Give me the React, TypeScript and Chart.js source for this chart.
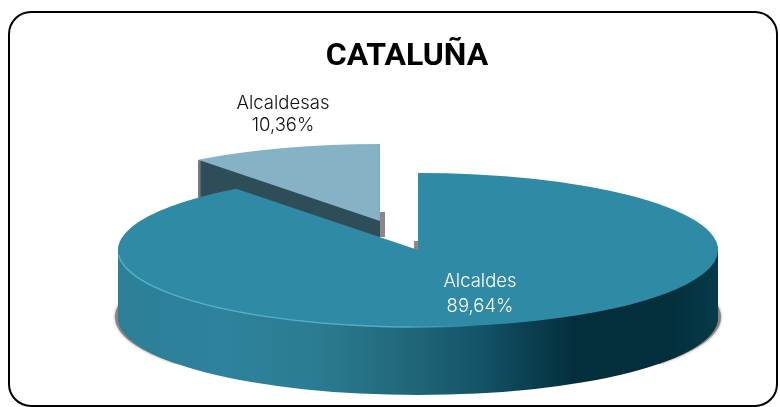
import React, { useEffect, useRef } from "react";
import { Chart, registerables } from "chart.js";

Chart.register(...registerables);

const TITLE = "CATALUÑA";
const CATEGORIES = ["Alcaldes", "Alcaldesas"];
const VALUES = [89.64, 10.36];
const VALUE_LABELS = ["89,64%", "10,36%"];
const FACE_COLORS = ["#2f8aa5", "#86b2c5"];

const CX = 418;
const CY = 250;
const RADIUS = 300;
const SQUASH = 0.257;
const DEPTH = 68;
const SLICE_DEPTH = 60;
const EXPLODE = 119;

function frame(ctx: CanvasRenderingContext2D, el: any, dy = 0, explode = 0) {
  ctx.translate(CX, CY + dy);
  ctx.scale(1, SQUASH);
  ctx.translate(-el.x, -el.y);
  if (explode) {
    const mid = (el.startAngle + el.endAngle) / 2;
    ctx.translate(Math.cos(mid) * explode, Math.sin(mid) * explode);
  }
}

function sector(ctx: CanvasRenderingContext2D, el: any) {
  ctx.beginPath();
  ctx.moveTo(el.x, el.y);
  ctx.arc(el.x, el.y, el.outerRadius, el.startAngle, el.endAngle);
  ctx.closePath();
}

const pie3d = {
  id: "pie3d",
  beforeDraw(chart: any) {
    const ctx = chart.ctx;
    ctx.save();
    ctx.strokeStyle = "#000";
    ctx.lineWidth = 2;
    ctx.beginPath();
    ctx.roundRect(9, 12, 768, 394, 22);
    ctx.stroke();
    ctx.restore();
  },
  beforeDatasetsDraw(chart: any) {
    const ctx: CanvasRenderingContext2D = chart.ctx;
    const [main, slice] = chart.getDatasetMeta(0).data;

    // floor shadow, only its lower part shows
    ctx.save();
    ctx.beginPath();
    ctx.rect(CX - RADIUS - 14, CY + 54, RADIUS * 2 + 28, 60);
    ctx.clip();
    ctx.shadowColor = "rgba(120,105,100,0.7)";
    ctx.shadowBlur = 3;
    ctx.fillStyle = "#8c817d";
    ctx.beginPath();
    ctx.ellipse(CX, CY + DEPTH - 1, RADIUS + 3, RADIUS * SQUASH + 0.5, 0, 0, Math.PI * 2);
    ctx.fill();
    ctx.restore();

    // contact shadows next to the cut faces
    ctx.save();
    ctx.fillStyle = "#8f8683";
    ctx.fillRect(380, 212, 5, 25);
    ctx.fillRect(414, 241, 5, 10);
    ctx.fillRect(198, 160, 1.5, 38);
    ctx.restore();

    // separated slice: side then face
    for (let d = SLICE_DEPTH; d > 0; d--) {
      ctx.save();
      frame(ctx, slice, d, EXPLODE);
      ctx.fillStyle = "#2f4e59";
      sector(ctx, slice);
      ctx.fill();
      ctx.restore();
    }
    ctx.save();
    frame(ctx, slice, 0, EXPLODE);
    slice.draw(ctx);
    ctx.restore();

    // large slice: side then face
    for (let d = DEPTH; d > 0; d--) {
      ctx.save();
      frame(ctx, main, d);
      const g = ctx.createLinearGradient(main.x - RADIUS, 0, main.x + RADIUS, 0);
      g.addColorStop(0, "#2d7f98");
      g.addColorStop(0.18, "#2e829b");
      g.addColorStop(0.33, "#2b7c92");
      g.addColorStop(0.47, "#22697c");
      g.addColorStop(0.6, "#145468");
      g.addColorStop(0.68, "#0b4152");
      g.addColorStop(0.76, "#032f3d");
      g.addColorStop(0.92, "#032f3c");
      g.addColorStop(1, "#053b4a");
      ctx.fillStyle = g;
      sector(ctx, main);
      ctx.fill();
      ctx.restore();
    }
    ctx.save();
    frame(ctx, main);
    main.draw(ctx);
    ctx.restore();

    // bright rim along the front-left edge
    ctx.save();
    const rim = ctx.createLinearGradient(CX - RADIUS, 0, CX + 60, 0);
    rim.addColorStop(0, "rgba(90,185,205,0.9)");
    rim.addColorStop(0.8, "rgba(90,185,205,0.8)");
    rim.addColorStop(1, "rgba(90,185,205,0)");
    ctx.strokeStyle = rim;
    ctx.lineWidth = 1.4;
    ctx.beginPath();
    ctx.ellipse(CX, CY, RADIUS, RADIUS * SQUASH, 0, Math.PI * 0.42, Math.PI * 0.98);
    ctx.stroke();
    ctx.restore();
    return false;
  },
  afterDraw(chart: any) {
    const ctx: CanvasRenderingContext2D = chart.ctx;
    ctx.save();
    ctx.font = "300 18.5px Inter";
    ctx.textAlign = "center";
    ctx.textBaseline = "middle";
    ctx.fillStyle = "#111";
    ctx.fillText(CATEGORIES[1], 283, 103);
    ctx.fillText(VALUE_LABELS[1], 283, 125);
    ctx.fillStyle = "#fff";
    ctx.fillText(CATEGORIES[0], 480, 281);
    ctx.fillText(VALUE_LABELS[0], 480, 306);
    ctx.restore();
  },
};

export default function App() {
  const ref = useRef<HTMLCanvasElement>(null);
  useEffect(() => {
    document.body.style.margin = "0";
    document.body.style.background = "#fff";
    const chart = new Chart(ref.current!, {
      type: "pie",
      data: {
        labels: CATEGORIES,
        datasets: [{ data: VALUES, backgroundColor: FACE_COLORS, borderWidth: 0 }],
      },
      options: {
        responsive: false,
        animation: false,
        radius: RADIUS,
        rotation: 0,
        layout: { padding: { left: 34, right: 0, top: 0, bottom: 0 } },
        events: [],
        plugins: {
          legend: { display: false },
          tooltip: { enabled: false },
          title: {
            display: true,
            text: TITLE,
            color: "#000",
            font: { family: "Roboto", size: 32, weight: "bold" },
            padding: { top: 38, bottom: 0 },
          },
        },
      } as any,
      plugins: [pie3d as any],
    });
    return () => chart.destroy();
  }, []);
  return <canvas ref={ref} width={780} height={407} style={{ display: "block" }} />;
}
